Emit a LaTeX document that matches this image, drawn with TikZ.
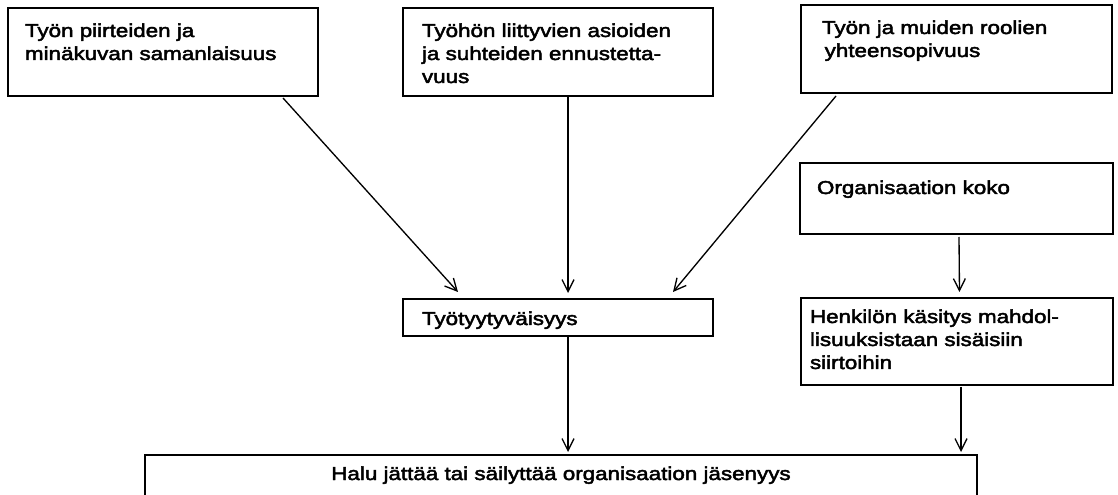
\documentclass[tikz,border=0pt]{standalone}
\usepackage{fontspec}
\setmainfont{Liberation Sans}[FakeStretch=1.2,FakeBold=2.5]
\usetikzlibrary{arrows.meta,calc}
\newcommand{\mlines}[1]{\begin{tabular}[t]{@{}l@{}}#1\end{tabular}}
\tikzset{
  boxnode/.style={draw=black, line width=1.5pt, rectangle, anchor=north west, inner sep=0pt, outer sep=0pt},
  txt/.style={anchor=base west, inner sep=0pt, outer sep=0pt, font=\fontsize{14pt}{17.25pt}\selectfont},
  conn/.style={line width=1pt, -{Straight Barb[length=9pt,width=9pt,line width=1pt]}}
}
\begin{document}
\begin{tikzpicture}[x=0.75pt,y=-0.75pt]
\useasboundingbox[fill=white] (0,0) rectangle (1118,495);
% boxes
\node[boxnode, minimum width=232.5pt, minimum height=66pt] (b1) at (8,8) {};
\node[boxnode, minimum width=232.5pt, minimum height=66pt] (b2) at (403,8) {};
\node[boxnode, minimum width=233.25pt, minimum height=66pt] (b3) at (801,5) {};
\node[boxnode, minimum width=234.75pt, minimum height=53.25pt] (b4) at (800,163) {};
\node[boxnode, minimum width=234pt, minimum height=65.25pt] (b5) at (801,298) {};
\node[boxnode, minimum width=232.5pt, minimum height=27.75pt] (b6) at (403,299) {};
\node[boxnode, minimum width=624pt, minimum height=45pt] (b7) at (145,455) {};
% texts
\node[txt] (t1) at (25,37) {\mlines{Työn piirteiden ja\\minäkuvan samanlaisuus}};
\node[txt] (t2) at (422,37) {\mlines{Työhön liittyvien asioiden\\ja suhteiden ennustetta-\\vuus}};
\node[txt] (t3) at (822,34) {\mlines{Työn ja muiden roolien\\\hspace{2pt}yhteensopivuus}};
\node[txt] (t4) at (817,194) {Organisaation koko};
\node[txt] (t5) at (810,323) {\mlines{Henkilön käsitys mahdol-\\lisuuksistaan sisäisiin\\siirtoihin}};
\node[txt] (t6) at (422,325) {Työtyytyväisyys};
\node[txt, anchor=base] (t7) at (561,480) {Halu jättää tai säilyttää organisaation jäsenyys};
% connectors
\draw[conn] ($(b1.south west)+(275,2)$) -- ($(b6.north west)+(55,-7)$);
\draw[conn] ($(b2.south)+(10,0)$) -- ($(b6.north)+(10,-6)$);
\draw[conn] ($(b3.south west)+(35,3)$) -- ($(b6.north west)+(270,-7)$);
\draw[conn] ($(b4.south)+(2.5,3)$) -- ($(b5.north)+(2.5,-6)$);
\draw[conn] ($(b6.south)+(10,0)$) -- ($(b7.north)+(7,-3)$);
\draw[conn] ($(b5.south)+(4,2)$) -- ($(b7.north east)+(-16,-3)$);
\end{tikzpicture}
\end{document}
